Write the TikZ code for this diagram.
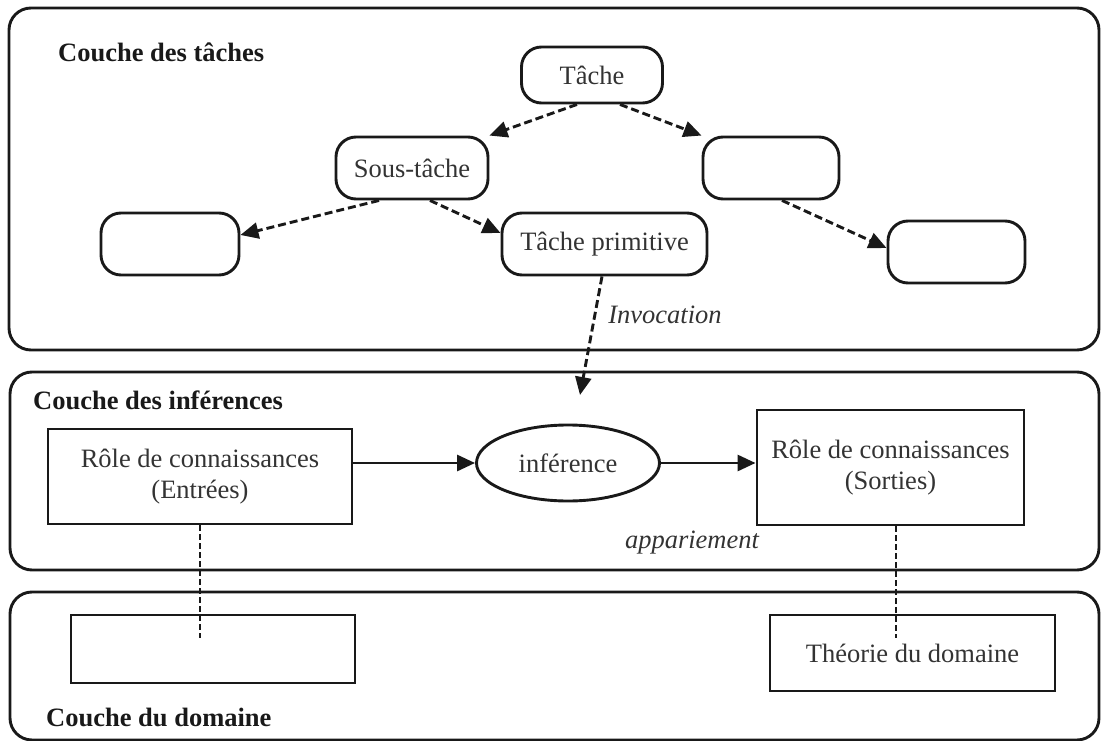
\documentclass[tikz,border=0pt]{standalone}
\usepackage{fontspec}
\setmainfont{Liberation Serif}
\usetikzlibrary{arrows.meta,shapes.geometric}
\begin{document}
\begin{tikzpicture}[x=1pt,y=-1pt,
  font=\fontsize{26.5}{31}\selectfont,
  every node/.style={text=black!80},
  layer/.style={draw=black!90, line width=2.9pt, rounded corners=22pt},
  title/.style={anchor=west, inner sep=0pt, font=\fontsize{26.5}{31}\selectfont\bfseries, text=black!90},
  task/.style={draw=black!90, line width=2.9pt, rounded corners=20pt,
    minimum width=#1, minimum height=62pt, inner sep=0pt},
  role/.style={draw=black!90, line width=2.9pt, minimum width=#1, inner sep=0pt, align=center},
  lbl/.style={inner sep=0pt, font=\fontsize{26.5}{31}\selectfont\itshape},
  tip/.style={-{Triangle[length=18pt,width=16pt]}},
  dasharrow/.style={tip, draw=black!90, line width=2.9pt, dash pattern=on 8pt off 4pt},
  solidarrow/.style={tip, draw=black!90, line width=2.9pt},
  link/.style={draw=black!90, line width=2.9pt, dash pattern=on 6pt off 3pt}
]
\useasboundingbox (0,0) rectangle (1101,741);

% the three layers
\draw[layer] (9,8) rectangle (1099,350);
\draw[layer] (10,372) rectangle (1099,570);
\draw[layer] (10,592) rectangle (1099,740);

\node[title] (t1) at (58,52) {Couche des tâches};
\node[title] (t2) at (33,400) {Couche des inférences};
\node[title] (t3) at (46,717) {Couche du domaine};

% task layer
\node[task=141pt, minimum height=56pt] (tache) at (592,75) {Tâche};
\node[task=152pt] (sous) at (412,168) {Sous-tâche};
\node[task=136pt] (rbox) at (771,168) {};
\node[task=138pt] (lbox) at (170,244) {};
\node[task=205pt] (prim) at (604.5,244) {Tâche primitive};
\node[task=137pt] (frbox) at (956.5,252) {};

\draw[dasharrow] ([xshift=-15pt]tache.south) -- (sous.north east);
\draw[dasharrow] ([xshift=28pt]tache.south) -- (rbox.north west);
\draw[dasharrow] ([xshift=-33pt]sous.south) -- ([yshift=9pt]lbox.east);
\draw[dasharrow] ([xshift=18pt]sous.south) -- ([yshift=11pt]prim.west);
\draw[dasharrow] ([xshift=11pt]rbox.south) -- ([yshift=4pt]frbox.west);

\node[lbl] (invlbl) at (665,315) {Invocation};
\coordinate (inv) at (580,395);
\draw[dasharrow] ([xshift=-2.5pt]prim.south) -- (inv);

% inference layer
\node[role=304pt, minimum height=95pt] (entrees) at (200,476.5)
  {Rôle de connaissances\\(Entrées)};
\node[draw=black!90, line width=2.9pt, ellipse, minimum width=183pt,
  minimum height=76pt, inner sep=0pt] (infer) at (568,463) {inférence};
\node[role=267pt, minimum height=115pt] (sorties) at (890.5,467.5)
  {Rôle de connaissances\\(Sorties)};

\draw[solidarrow] (entrees.east |- infer.west) -- (infer.west);
\draw[solidarrow] (infer.east) -- (sorties.west |- infer.east);

\node[lbl] (app) at (692,543) {appariement};

% domain layer
\node[role=284pt, minimum height=68pt] (domleft) at (213,649) {};
\node[role=285pt, minimum height=76pt] (theorie) at (912.5,653) {Théorie du domaine};

\coordinate (dl) at (200,638);
\coordinate (dr) at (896,638);
\draw[link] (entrees.south) -- (dl);
\draw[link] ([xshift=5.5pt]sorties.south) -- (dr);
\end{tikzpicture}
\end{document}
